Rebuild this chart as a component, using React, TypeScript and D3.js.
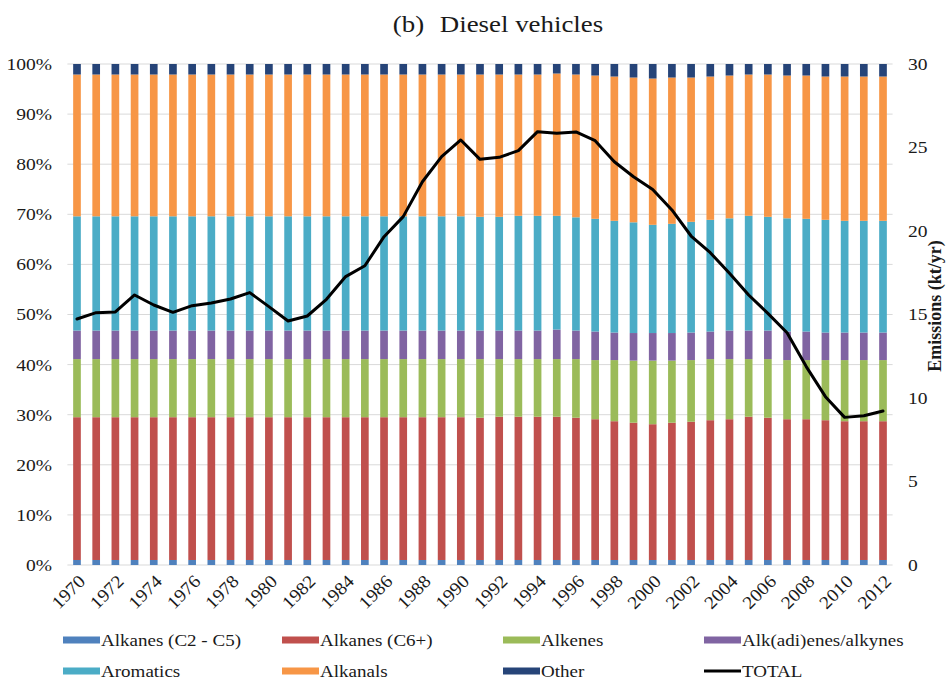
import React from "react";
import * as d3 from "d3";

const years = [1970,1971,1972,1973,1974,1975,1976,1977,1978,1979,1980,1981,1982,1983,1984,1985,1986,1987,1988,1989,1990,1991,1992,1993,1994,1995,1996,1997,1998,1999,2000,2001,2002,2003,2004,2005,2006,2007,2008,2009,2010,2011,2012];
const yearLabels = [1970,1972,1974,1976,1978,1980,1982,1984,1986,1988,1990,1992,1994,1996,1998,2000,2002,2004,2006,2008,2010,2012];

const alkanesC2C5 = [1,1,1,1,1,1,1,1,1,1,1,1,1,1,1,1,1,1,1,1,1,1,1,1,1,1,1,1,1,1,1,1,1,1,1,1,1,1,1,1,1,1,1];
const alkanesC6 = [28.5,28.5,28.5,28.5,28.5,28.5,28.5,28.5,28.5,28.5,28.5,28.5,28.5,28.5,28.5,28.5,28.5,28.5,28.5,28.5,28.5,28.4,28.6,28.6,28.6,28.6,28.4,28.1,27.7,27.4,27.1,27.4,27.6,27.9,28.1,28.6,28.4,28.1,28.1,27.9,27.7,27.7,27.7];
const alkenes = [11.6,11.6,11.6,11.6,11.6,11.6,11.6,11.6,11.6,11.6,11.6,11.6,11.6,11.6,11.6,11.6,11.6,11.6,11.6,11.6,11.6,11.7,11.5,11.5,11.5,11.5,11.7,11.8,12.2,12.4,12.7,12.4,12.3,12.2,12.0,11.5,11.7,11.8,11.8,12.0,12.2,12.2,12.2];
const alkadienes = [5.7,5.7,5.7,5.7,5.7,5.7,5.7,5.7,5.7,5.7,5.7,5.7,5.7,5.7,5.7,5.7,5.7,5.7,5.7,5.7,5.7,5.7,5.7,5.7,5.7,5.9,5.7,5.7,5.5,5.5,5.5,5.5,5.5,5.5,5.7,5.7,5.7,5.7,5.7,5.5,5.5,5.5,5.5];
const aromatics = [22.8,22.8,22.8,22.8,22.8,22.8,22.8,22.8,22.8,22.8,22.8,22.8,22.8,22.8,22.8,22.8,22.8,22.8,22.8,22.8,22.8,22.7,22.7,22.9,22.9,22.7,22.6,22.5,22.3,22.1,21.6,21.8,22.1,22.3,22.4,22.9,22.7,22.6,22.5,22.5,22.3,22.3,22.3];
const alkanals = [28.3,28.3,28.3,28.3,28.3,28.3,28.3,28.3,28.3,28.3,28.3,28.3,28.3,28.3,28.3,28.3,28.3,28.3,28.3,28.3,28.3,28.4,28.4,28.2,28.2,28.4,28.5,28.6,28.8,28.9,29.2,29.2,28.8,28.6,28.5,28.2,28.4,28.5,28.6,28.6,28.8,28.8,28.8];
const other = [2.1,2.1,2.1,2.1,2.1,2.1,2.1,2.1,2.1,2.1,2.1,2.1,2.1,2.1,2.1,2.1,2.1,2.1,2.1,2.1,2.1,2.1,2.1,2.1,2.1,1.9,2.1,2.3,2.5,2.7,2.9,2.7,2.7,2.5,2.3,2.1,2.1,2.3,2.3,2.5,2.5,2.5,2.5];
const total = [14.73,15.11,15.15,16.17,15.57,15.13,15.53,15.69,15.93,16.31,15.47,14.61,14.91,15.91,17.27,17.92,19.66,20.86,22.95,24.45,25.45,24.29,24.41,24.81,25.95,25.85,25.93,25.41,24.15,23.25,22.49,21.26,19.70,18.70,17.47,16.17,15.07,13.91,11.88,10.08,8.84,8.94,9.22];

const seriesNames = ["Alkanes (C2 - C5)", "Alkanes (C6+)", "Alkenes", "Alk(adi)enes/alkynes", "Aromatics", "Alkanals", "Other"];
const seriesColors = ["#4F81BD", "#C0504D", "#9BBB59", "#8064A2", "#4BACC6", "#F79646", "#264478"];
const seriesValues = [alkanesC2C5, alkanesC6, alkenes, alkadienes, aromatics, alkanals, other];

const leftTicks = [0, 10, 20, 30, 40, 50, 60, 70, 80, 90, 100];
const rightTicks = [0, 5, 10, 15, 20, 25, 30];

const W = 947, H = 680;
const plot = { left: 67.4, right: 892.6, top: 64, bottom: 565 };
const SX = 1.15;
const FONT = "Liberation Serif";

function SText({ x, y, anchor = "start", size = 16, children, weight = "normal", rotate = 0, dy = "0.35em", sx = SX }: any) {
  return (
    <g transform={`translate(${x},${y}) rotate(${rotate}) scale(${sx},1)`}>
      <text textAnchor={anchor} dy={dy} fontSize={size} fontWeight={weight} fontFamily={FONT} fill="#1a1a1a">{children}</text>
    </g>
  );
}

export default function App() {
  const x = d3.scaleBand<number>().domain(years).range([plot.left, plot.right]).paddingInner(0.6).paddingOuter(0.3);
  const y = d3.scaleLinear().domain([0, 100]).range([plot.bottom, plot.top]);
  const yR = d3.scaleLinear().domain([0, 30]).range([plot.bottom, plot.top]);

  const rows = years.map((yr, i) => {
    const r: any = { year: yr };
    seriesNames.forEach((n, k) => { r[n] = seriesValues[k][i]; });
    return r;
  });
  const stacked = d3.stack<any>().keys(seriesNames)(rows);

  const line = d3.line<number>()
    .x((_, i) => (x(years[i]) as number) + x.bandwidth() / 2)
    .y((v) => yR(v));

  const legendCols = [63, 282, 503, 704];
  const legendRows = [640, 671];
  const legendItems = [
    ...seriesNames.slice(0, 4).map((n, k) => ({ name: n, color: seriesColors[k], col: k, row: 0, isLine: false })),
    ...seriesNames.slice(4).map((n, k) => ({ name: n, color: seriesColors[k + 4], col: k, row: 1, isLine: false })),
    { name: "TOTAL", color: "#000", col: 3, row: 1, isLine: true },
  ];

  return (
    <svg width={W} height={H} fontFamily={FONT} style={{ position: "absolute", left: 0, top: 0, background: "#fff" }}>
      <rect x={0} y={0} width={W} height={H} fill="#fff" />
      {/* title */}
      <SText x={498} y={24} anchor="middle" size={24} sx={1.12}>
        (b)<tspan dx={14}>Diesel vehicles</tspan>
      </SText>
      {/* gridlines */}
      {leftTicks.map((t) => (
        <line key={t} x1={plot.left} x2={plot.right} y1={y(t)} y2={y(t)} stroke="#d9d9d9" strokeWidth={1} />
      ))}
      {/* bars */}
      {stacked.map((s, k) => (
        <g key={s.key} fill={seriesColors[k]}>
          {s.map((d, i) => (
            <rect key={i} x={x(years[i])} width={x.bandwidth()} y={y(d[1])} height={Math.max(0, y(d[0]) - y(d[1]))} />
          ))}
        </g>
      ))}
      {/* total line */}
      <path d={line(total) || ""} fill="none" stroke="#000" strokeWidth={3} strokeLinejoin="round" strokeLinecap="round" />
      {/* left axis labels */}
      {leftTicks.map((t) => (
        <SText key={t} x={52} y={y(t)} anchor="end" size={17}>{t}%</SText>
      ))}
      {/* right axis labels */}
      {rightTicks.map((t) => (
        <SText key={t} x={908} y={yR(t)} anchor="start" size={17}>{t}</SText>
      ))}
      <SText x={941} y={306} anchor="middle" size={18} weight="bold" rotate={-90} sx={1} dy="0">Emissions (kt/yr)</SText>
      {/* x labels */}
      {yearLabels.map((yr) => (
        <SText key={yr} x={(x(yr) as number) + x.bandwidth() / 2 + 5} y={578} anchor="end" size={18} rotate={-45} sx={1.08}>{yr}</SText>
      ))}
      {/* legend */}
      {legendItems.map((it) => {
        const lx = legendCols[it.col];
        const ly = legendRows[it.row];
        return (
          <g key={it.name}>
            {it.isLine ? (
              <line x1={lx} x2={lx + 37} y1={ly} y2={ly} stroke="#000" strokeWidth={3} />
            ) : (
              <rect x={lx} y={ly - 3.5} width={37} height={7} fill={it.color} />
            )}
            <SText x={lx + 38} y={ly} anchor="start" size={17} sx={1.12}>{it.name}</SText>
          </g>
        );
      })}
    </svg>
  );
}
